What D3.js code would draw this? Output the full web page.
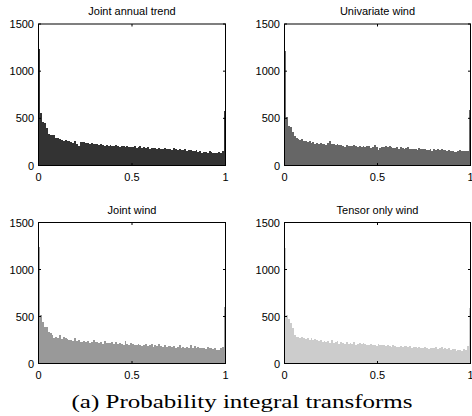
<!DOCTYPE html>
<html>
<head>
<meta charset="utf-8">
<script src="https://cdn.jsdelivr.net/npm/d3@7"></script>
<style>
  body { margin: 0; background: #fff; }
  svg { display: block; }
</style>
</head>
<body>
<div id="chart"></div>
<script>
// histogram counts, 100 bins of width 0.01 on [0,1]
var jointTrend = [1240, 560, 465, 450, 395, 335, 328, 320, 325, 293,
  288, 280, 268, 262, 266, 255, 265, 245, 238, 258,
  232, 210, 252, 245, 248, 240, 243, 233, 236, 230,
  232, 226, 222, 230, 219, 208, 222, 210, 214, 212,
  208, 216, 202, 198, 206, 204, 196, 210, 195, 200,
  198, 204, 190, 194, 206, 188, 196, 185, 200, 178,
  184, 182, 190, 176, 186, 178, 172, 188, 180, 170,
  176, 166, 186, 170, 168, 180, 164, 160, 172, 150,
  166, 162, 150, 158, 160, 148, 152, 134, 140, 146,
  136, 152, 140, 132, 128, 136, 140, 130, 150, 575];

var univariateWind = [1210, 510, 420, 410, 360, 315, 290, 285, 270, 280,
  262, 264, 245, 260, 240, 250, 232, 238, 228, 236,
  226, 230, 220, 236, 255, 232, 228, 218, 224, 214,
  220, 212, 200, 214, 208, 212, 204, 216, 206, 198,
  210, 200, 212, 196, 204, 210, 190, 200, 215, 196,
  165, 190, 192, 200, 210, 198, 204, 196, 190, 188,
  194, 180, 192, 186, 178, 184, 196, 180, 170, 176,
  180, 166, 190, 170, 172, 178, 160, 168, 176, 158,
  170, 160, 176, 164, 170, 160, 165, 158, 162, 155,
  150, 148, 144, 150, 160, 155, 150, 156, 152, 590];

var jointWind = [1240, 520, 440, 390, 385, 330, 320, 300, 275, 280,
  270, 300, 260, 285, 270, 262, 255, 250, 240, 270,
  235, 250, 225, 232, 240, 228, 236, 222, 230, 245,
  224, 232, 218, 226, 210, 240, 214, 222, 215, 226,
  205, 232, 212, 220, 210, 200, 235, 205, 196, 215,
  205, 200, 195, 212, 200, 190, 198, 210, 185, 192,
  205, 180, 195, 185, 210, 188, 178, 195, 172, 190,
  182, 175, 188, 170, 180, 192, 165, 178, 168, 175,
  160, 200, 170, 186, 162, 178, 168, 160, 170, 155,
  178, 165, 160, 150, 165, 145, 140, 160, 175, 600];

var tensorWind = [1230, 520, 470, 430, 380, 300, 285, 278, 270, 280,
  275, 260, 270, 255, 268, 250, 258, 246, 236, 250,
  230, 244, 225, 238, 220, 246, 218, 225, 240, 212,
  228, 220, 208, 232, 205, 220, 212, 228, 200, 210,
  215, 204, 220, 210, 200, 196, 212, 200, 196, 188,
  206, 192, 200, 196, 186, 194, 190, 180, 198, 186,
  180, 176, 188, 175, 190, 182, 178, 184, 170, 176,
  172, 168, 178, 164, 160, 176, 166, 150, 168, 170,
  160, 176, 158, 164, 172, 155, 160, 150, 162, 146,
  156, 158, 134, 148, 140, 136, 150, 148, 190, 590];

var titles = ["Joint annual trend", "Univariate wind", "Joint wind", "Tensor only wind"];
var series = [jointTrend, univariateWind, jointWind, tensorWind];
var colors = ["#333333", "#666666", "#999999", "#cccccc"];
var xTicks = [0, 0.5, 1];
var yTicks = [0, 500, 1000, 1500];
var caption = "(a) Probability integral transforms";

var W = 472, H = 416;
var svg = d3.select("#chart").append("svg")
  .attr("width", W).attr("height", H);

// panel boxes: left, right, top, bottom
var panels = [
  {l: 38.5, r: 225.5, t: 24, b: 165.5},
  {l: 284.5, r: 470.5, t: 24, b: 165.5},
  {l: 38.5, r: 225.5, t: 222.5, b: 363.5},
  {l: 284.5, r: 470.5, t: 222.5, b: 363.5}
];

var sans = "Liberation Sans, Arial, Helvetica, sans-serif";

panels.forEach(function(p, k) {
  var data = series[k];
  var x = d3.scaleLinear().domain([0, 1]).range([p.l, p.r]);
  var y = d3.scaleLinear().domain([0, 1500]).range([p.b, p.t]);
  var g = svg.append("g");

  // bars, snapped to whole pixels so neighbours meet without seams
  g.selectAll("rect.bar")
    .data(data)
    .enter()
    .append("rect")
      .attr("class", "bar")
      .attr("shape-rendering", "crispEdges")
      .attr("x", function(d, i) { return Math.round(x(i / 100)); })
      .attr("y", function(d) { return Math.round(y(d)); })
      .attr("width", function(d, i) { return Math.round(x((i + 1) / 100)) - Math.round(x(i / 100)); })
      .attr("height", function(d) { return Math.round(y(0)) - Math.round(y(d)); })
      .attr("fill", colors[k]);

  // frame
  g.append("rect")
    .attr("x", p.l).attr("y", p.t)
    .attr("width", p.r - p.l).attr("height", p.b - p.t)
    .attr("fill", "none").attr("stroke", "#000").attr("stroke-width", 1);

  // ticks pointing inward on all sides
  var tl = 2.5;
  xTicks.forEach(function(v) {
    g.append("line").attr("x1", x(v)).attr("x2", x(v)).attr("y1", p.b).attr("y2", p.b - tl).attr("stroke", "#000");
    g.append("line").attr("x1", x(v)).attr("x2", x(v)).attr("y1", p.t).attr("y2", p.t + tl).attr("stroke", "#000");
    g.append("text")
      .attr("x", x(v)).attr("y", p.b + 15)
      .attr("text-anchor", "middle")
      .attr("font-family", sans)
      .attr("font-size", 11)
      .text(v);
  });
  yTicks.forEach(function(v) {
    g.append("line").attr("x1", p.l).attr("x2", p.l + tl).attr("y1", y(v)).attr("y2", y(v)).attr("stroke", "#000");
    g.append("line").attr("x1", p.r).attr("x2", p.r - tl).attr("y1", y(v)).attr("y2", y(v)).attr("stroke", "#000");
    g.append("text")
      .attr("x", p.l - 4.5).attr("y", y(v) + 4)
      .attr("text-anchor", "end")
      .attr("font-family", sans)
      .attr("font-size", 11)
      .text(v);
  });

  // title
  g.append("text")
    .attr("x", (p.l + p.r) / 2).attr("y", p.t - 9)
    .attr("text-anchor", "middle")
    .attr("font-family", sans)
    .attr("font-size", 11)
    .text(titles[k]);
});

svg.append("text")
  .attr("x", 242).attr("y", 407.5)
  .attr("text-anchor", "middle")
  .attr("font-family", "Liberation Serif, Times New Roman, serif")
  .attr("font-size", 19)
  .attr("textLength", 341)
  .attr("lengthAdjust", "spacingAndGlyphs")
  .text(caption);
</script>
</body>
</html>
